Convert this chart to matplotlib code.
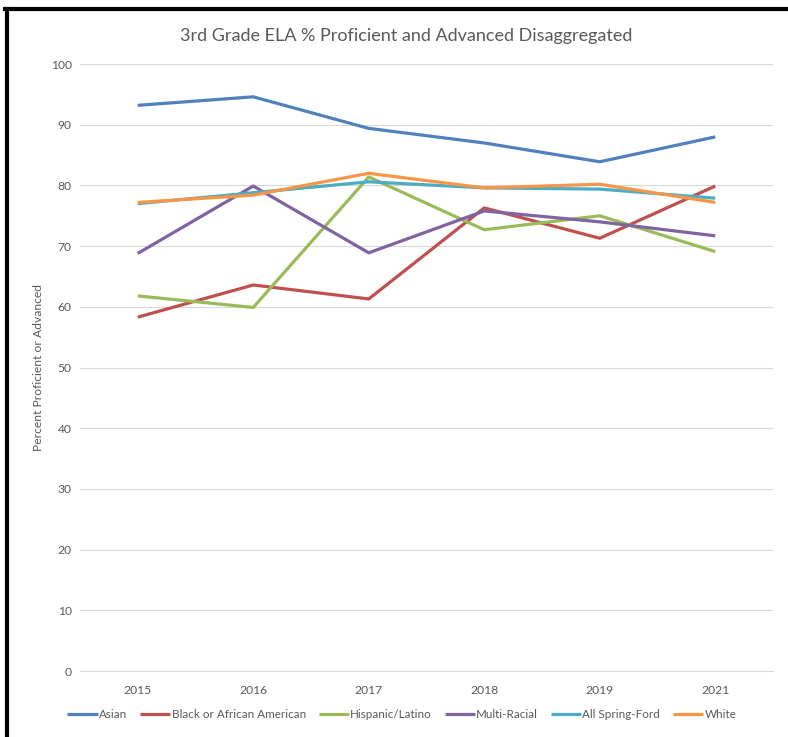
import matplotlib.pyplot as plt
from matplotlib.lines import Line2D
import numpy as np

# school years and proficiency rates per student group
years = ['2015', '2016', '2017', '2018', '2019', '2021']
asian = [93.2, 94.6, 89.4, 87.0, 83.9, 88.0]
black = [58.3, 63.6, 61.3, 76.3, 71.3, 79.9]
hispanic = [61.8, 59.9, 81.4, 72.7, 75.0, 69.1]
multi = [68.8, 79.9, 68.9, 75.8, 74.0, 71.7]
all_sf = [77.0, 78.8, 80.6, 79.6, 79.4, 77.9]
white = [77.2, 78.4, 82.0, 79.6, 80.2, 77.2]

series = [
	('Asian', asian, '#4F81BD'),
	('Black or African American', black, '#C0504D'),
	('Hispanic/Latino', hispanic, '#9BBB59'),
	('Multi-Racial', multi, '#8064A2'),
	('All Spring-Ford', all_sf, '#4BACC6'),
	('White', white, '#F79646'),
]

plt.rcParams['font.family'] = ['Lato', 'DejaVu Sans']
grey = '#595959'

fig = plt.figure(figsize=(7.88, 7.37), dpi=100)
ax = fig.add_axes([0.1015, 0.0895, 0.8795, 0.8236])

x = np.arange(len(years))
for name, vals, col in series:
	ax.plot(x, vals, color=col, lw=2.3, label=name, solid_capstyle='butt')

ax.set_xlim(-0.5, len(years) - 0.5)
ax.set_ylim(0, 100)
ax.set_yticks(range(0, 101, 10))
ax.set_xticks(x)
ax.set_xticklabels(years)
ax.grid(axis='y', color='#D9D9D9', lw=0.8)
ax.set_axisbelow(True)
for s in ['top', 'right', 'left']:
	ax.spines[s].set_visible(False)
ax.spines['bottom'].set_color('#D9D9D9')
ax.spines['bottom'].set_linewidth(0.8)
ax.tick_params(length=0, labelsize=8.7, labelcolor=grey)
ax.tick_params(axis='y', pad=6)
ax.tick_params(axis='x', pad=10)

ax.set_ylabel('Percent Proficient or Advanced', fontsize=8.7, color=grey, labelpad=5)
fig.text(0.515, 0.951, '3rd Grade ELA % Proficient and Advanced Disaggregated',
	ha='center', va='center', fontsize=13, color=grey)

fig.legend(loc='center', bbox_to_anchor=(0.51, 0.03), ncol=6, frameon=False,
	fontsize=8.4, handlelength=2.6, handletextpad=0.1, columnspacing=1.1,
	labelcolor=grey)

# black frame on the left and top edges
fig.add_artist(Line2D([0.0085, 0.0085], [0, 0.9875], color='black', lw=3, transform=fig.transFigure))
fig.add_artist(Line2D([0.0065, 1], [0.9875, 0.9875], color='black', lw=3, transform=fig.transFigure))

fig.savefig('out.png', dpi=100)
